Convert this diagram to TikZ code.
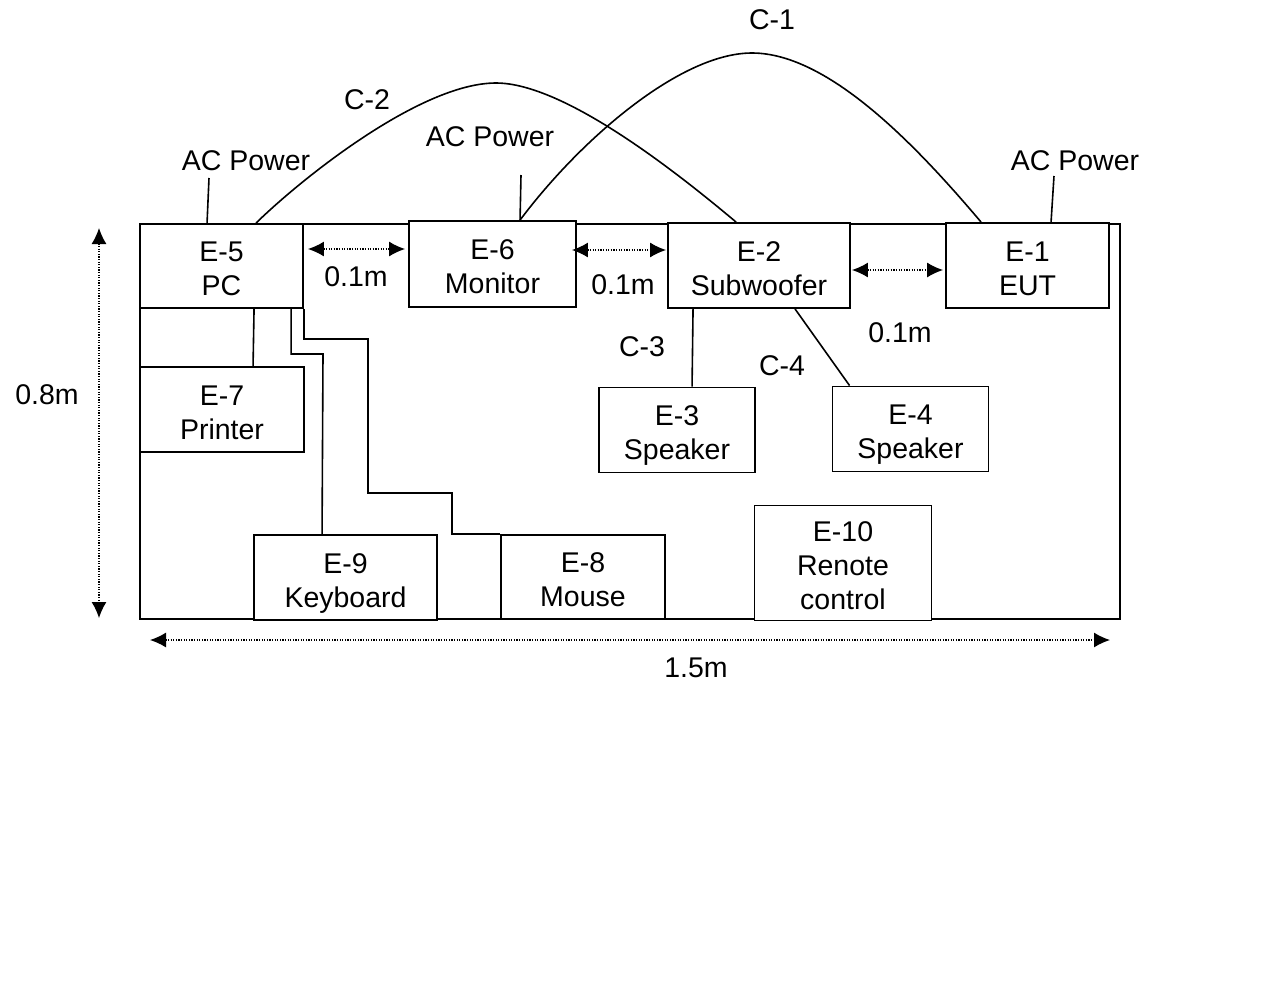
\documentclass[tikz,border=0pt]{standalone}
\usepackage{fontspec}
\setmainfont{Liberation Sans}
\usetikzlibrary{arrows.meta}
\newcommand\eqlines[1]{\rule{0pt}{32.4pt}#1\rule[-7pt]{0pt}{7pt}}
\begin{document}
\begin{tikzpicture}[x=1pt,y=-1pt,
  font=\fontsize{28.5}{34}\selectfont,
  box/.style={draw, line width=1.9pt, fill=white, inner sep=0pt, align=center},
  wire/.style={line width=1.6pt},
  dimline/.style={line width=1.3pt, dash pattern=on 1.3pt off 1.3pt,
    arrows={Latex[length=16pt,width=15pt]-Latex[length=16pt,width=15pt]}},
  lbl/.style={inner sep=0pt}]
\path[use as bounding box] (0,0) rectangle (1283,997);

% table outline
\node[draw, line width=1.9pt, minimum width=980pt, minimum height=395pt, inner sep=0pt] (table) at (630,421.5) {};

% equipment boxes
\node[box, minimum width=163pt, minimum height=84pt] (e5) at (221.5,266) {\eqlines{E-5\\PC}};
\node[box, minimum width=167pt, minimum height=86pt] (e6) at (492.5,264) {\eqlines{E-6\\Monitor}};
\node[box, minimum width=182pt, minimum height=85pt] (e2) at (759,265.5) {\eqlines{E-2\\Subwoofer}};
\node[box, minimum width=163pt, minimum height=85pt] (e1) at (1027.5,265.5) {\eqlines{E-1\\EUT}};
\node[box, minimum width=164pt, minimum height=85pt] (e7) at (222,409.5) {\eqlines{E-7\\Printer}};
\node[box, minimum width=156pt, minimum height=85pt] (e3) at (677,430) {\eqlines{E-3\\Speaker}};
\node[box, minimum width=156pt, minimum height=85pt] (e4) at (910.5,429) {\eqlines{E-4\\Speaker}};
\node[box, minimum width=183pt, minimum height=85pt] (e9) at (345.5,577.5) {\eqlines{E-9\\Keyboard}};
\node[box, minimum width=164pt, minimum height=84pt] (e8) at (583,577) {\eqlines{E-8\\Mouse}};
\node[box, minimum width=177pt, minimum height=115pt] (e10) at (843,563) {\eqlines{E-10\\Renote\\control}};

% free ends and bends
\coordinate (acA) at (209,178);
\coordinate (acB) at (521,175);
\coordinate (acC) at (1054,176);
\coordinate (c2top) at (496,83);
\coordinate (c1top) at (752,53);
\coordinate (kb1) at (323,354);
\coordinate (ms1) at (368,339);
\coordinate (ms2) at (452,493);

% AC power leads
\draw[wire] ([xshift=68pt]e5.north west) -- (acA);
\draw[wire] ([xshift=112pt]e6.north west) -- (acB);
\draw[wire] ([xshift=106pt]e1.north west) -- (acC);

% cables C-2 and C-1
\draw[wire] ([xshift=117pt]e5.north west) .. controls (300,180) and (420,83) .. (c2top)
  .. controls (565,83) and (680,175) .. ([xshift=69pt]e2.north west);
\draw[wire] ([xshift=112pt]e6.north west) .. controls (580,140) and (680,53) .. (c1top)
  .. controls (830,53) and (920,150) .. ([xshift=36pt]e1.north west);

% PC peripherals
\draw[wire] ([xshift=115pt]e5.south west) -- ([xshift=114pt]e7.north west);
\draw[wire] ([xshift=152pt]e5.south west) |- (kb1) -- ([xshift=69pt]e9.north west);
\draw[wire] (e5.south east) |- (ms1) |- (ms2) |- (e8.north west);

% speakers
\draw[wire] ([xshift=26pt]e2.south west) -- ([xshift=94pt]e3.north west);
\draw[wire] ([xshift=128pt]e2.south west) -- ([xshift=18pt]e4.north west);

% spacing arrows
\draw[dimline] ([xshift=4pt,yshift=17pt]e5.east) -- ([xshift=-3pt,yshift=15pt]e6.west);
\draw[dimline] ([xshift=-5pt,yshift=14pt]e6.east) -- ([xshift=-1pt,yshift=15.5pt]e2.west);
\draw[dimline] ([xshift=1pt,yshift=-4.5pt]e2.east) -- ([xshift=-2pt,yshift=-4.5pt]e1.west);

% overall dimensions
\coordinate (v1) at (99,228);
\coordinate (v2) at (99,618);
\coordinate (h1) at (150,640);
\coordinate (h2) at (1110,640);
\draw[dimline] (v1) -- (v2);
\draw[dimline] (h1) -- (h2);

% labels
\node[lbl] (lacA) at (246,161) {AC Power};
\node[lbl] (lacB) at (490,137) {AC Power};
\node[lbl] (lacC) at (1075,161) {AC Power};
\node[lbl] (lc1) at (772,20) {C-1};
\node[lbl] (lc2) at (367,100) {C-2};
\node[lbl] (lc3) at (642,347) {C-3};
\node[lbl] (lc4) at (782,366) {C-4};
\node[lbl] (d1) at (356,277) {0.1m};
\node[lbl] (d2) at (623,285) {0.1m};
\node[lbl] (d3) at (900,333) {0.1m};
\node[lbl] (d4) at (47,395) {0.8m};
\node[lbl] (d5) at (696,668) {1.5m};
\end{tikzpicture}
\end{document}
